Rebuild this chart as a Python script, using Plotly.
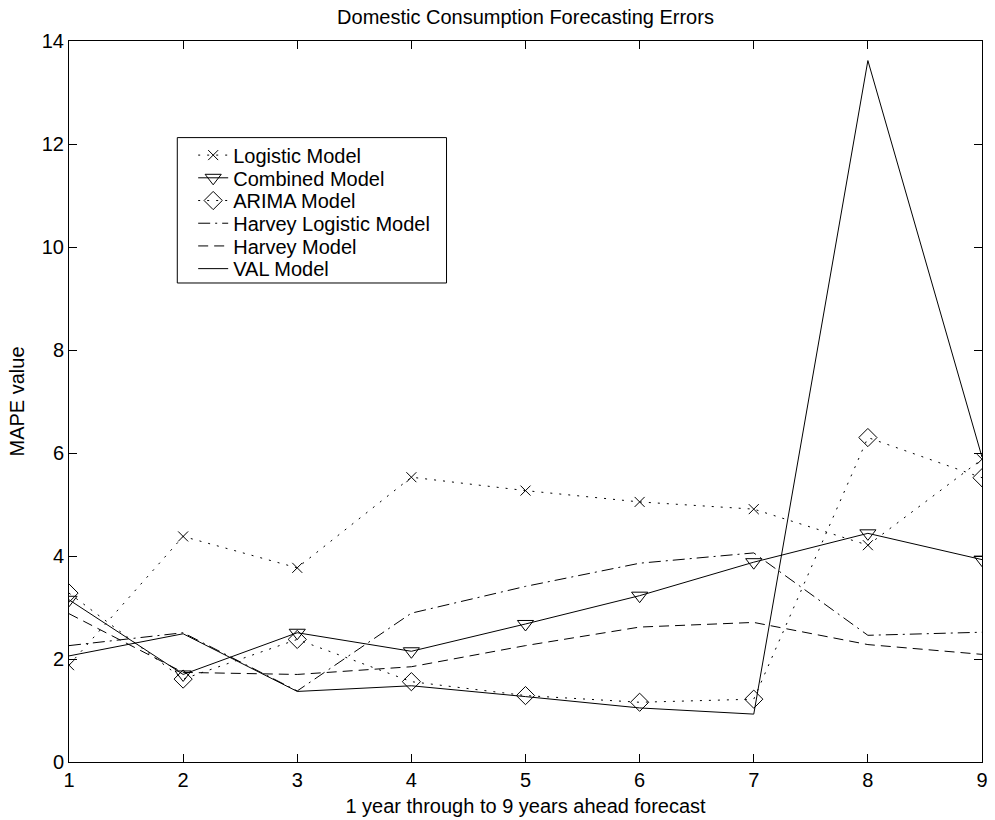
import plotly.graph_objects as go

# Forecast horizon (years ahead)
horizon = [1, 2, 3, 4, 5, 6, 7, 8, 9]

# MAPE values per model
logistic = [1.88, 4.38, 3.77, 5.53, 5.27, 5.05, 4.91, 4.21, 5.88]
combined = [3.15, 1.70, 2.51, 2.15, 2.68, 3.23, 3.88, 4.44, 3.93]
arima = [3.28, 1.61, 2.38, 1.56, 1.29, 1.16, 1.22, 6.30, 5.52]
harvey_logistic = [2.26, 2.51, 1.38, 2.89, 3.41, 3.86, 4.06, 2.46, 2.52]
harvey = [2.88, 1.74, 1.70, 1.85, 2.26, 2.62, 2.71, 2.28, 2.09]
val = [2.06, 2.49, 1.37, 1.48, 1.27, 1.05, 0.93, 13.62, 5.92]

FONT = "Liberation Sans, Arial, Helvetica, sans-serif"
DOT = "2px,7px"
DASH = "10px,6px"
DASHDOT = "12px,5px,2px,5px"

series = [
    ("Logistic Model", logistic, DOT, "x-thin-open", 10),
    ("Combined Model", combined, "solid", "triangle-down-open", 14),
    ("ARIMA Model", arima, DOT, "diamond-open", 14),
    ("Harvey Logistic Model", harvey_logistic, DASHDOT, None, 0),
    ("Harvey Model", harvey, DASH, None, 0),
    ("VAL Model", val, "solid", None, 0),
]

W, H = 995, 820
M_L, M_R, M_T, M_B = 69, 7, 41, 55
plot_h = H - M_T - M_B
plot_w = W - M_L - M_R

# Legend layout (pixels): a framed box with tightly stacked entries
box_left, box_right, box_top, box_bottom = 178, 449, 138, 284
entry_first, entry_step = 155, 22.8
entry_left = 194


def px_x(p):
    return (p - M_L) / plot_w


def px_y(p):
    return (H - M_B - p) / plot_h


fig = go.Figure()
legend_layouts = {}
for i, (name, values, dash, symbol, size) in enumerate(series):
    legend_id = "legend" if i == 0 else f"legend{i + 1}"
    mode = "lines+markers" if symbol else "lines"
    kwargs = dict(
        x=horizon,
        y=values,
        name=name,
        mode=mode,
        legend=legend_id,
        line=dict(color="black", width=1, dash=dash),
    )
    if symbol:
        kwargs["marker"] = dict(
            symbol=symbol, size=size, color="black",
            line=dict(color="black", width=1),
        )
    fig.add_trace(go.Scatter(**kwargs))
    center = entry_first + i * entry_step
    legend_layouts[legend_id] = dict(
        x=px_x(entry_left), y=px_y(center - 19),
        xanchor="left", yanchor="top",
        bgcolor="rgba(0,0,0,0)", borderwidth=0,
        font=dict(family=FONT, size=20, color="black"),
        itemwidth=30,
    )

# Frame around the legend entries
fig.add_shape(
    type="rect", xref="paper", yref="paper",
    x0=px_x(box_left), x1=px_x(box_right),
    y0=px_y(box_bottom), y1=px_y(box_top),
    line=dict(color="black", width=1), fillcolor="white", layer="above",
)

axis_common = dict(
    showline=True,
    linecolor="black",
    linewidth=1,
    mirror="ticks",
    ticks="inside",
    ticklen=8,
    tickcolor="black",
    tickwidth=1,
    showgrid=False,
    zeroline=False,
    tickfont=dict(family=FONT, size=20, color="black"),
)

fig.update_xaxes(
    range=[1, 9],
    tickmode="array",
    tickvals=horizon,
    title=dict(text="1 year through to 9 years ahead forecast",
               font=dict(family=FONT, size=20, color="black"), standoff=8),
    **axis_common,
)
fig.update_yaxes(
    range=[0, 14],
    tickmode="array",
    tickvals=[0, 2, 4, 6, 8, 10, 12, 14],
    title=dict(text="MAPE value",
               font=dict(family=FONT, size=20, color="black"), standoff=11),
    **axis_common,
)

fig.update_layout(
    width=W,
    height=H,
    margin=dict(l=M_L, r=M_R, t=M_T, b=M_B),
    paper_bgcolor="white",
    plot_bgcolor="white",
    font=dict(family=FONT, size=20, color="black"),
    title=dict(
        text="Domestic Consumption Forecasting Errors",
        x=0.5, xref="paper", xanchor="center",
        y=1 - 17 / H, yref="container", yanchor="middle",
        font=dict(family=FONT, size=20, color="black"),
    ),
    showlegend=True,
    **legend_layouts,
)

fig.write_html("out.html")
